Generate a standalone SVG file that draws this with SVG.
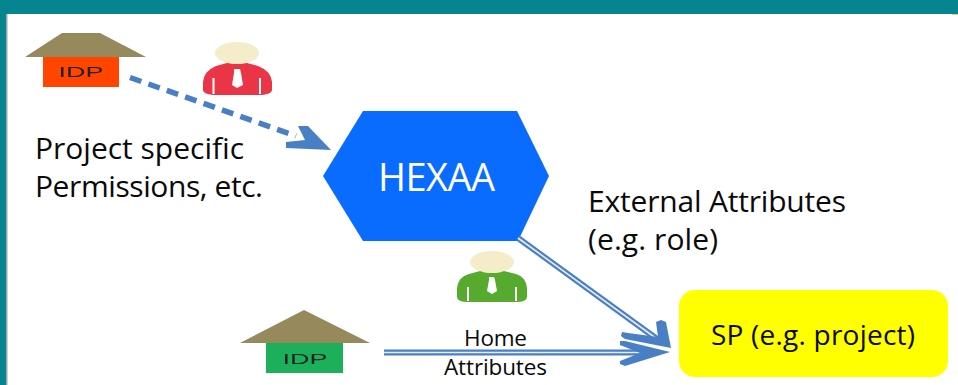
<svg xmlns="http://www.w3.org/2000/svg" width="958" height="385" viewBox="0 0 958 385">
<defs>
<filter id="soft" x="-5%" y="-5%" width="110%" height="110%"><feGaussianBlur stdDeviation="0.5"/></filter>
</defs>
<style>
text{font-family:"Open Sans","Noto Sans","Liberation Sans",sans-serif;fill:#0a0a0a}
.idp{font-family:"Liberation Sans",sans-serif;font-size:15px;text-anchor:middle;fill:#222}
.roof{fill:#96895c}
.head{fill:#f5ecc9}
.tie{fill:#fff}
.edge{fill:none;stroke:#4a7fc4}
.headfill{fill:#4a7fc4}
.inner{fill:none;stroke:#e6eef8;stroke-width:1.6}
</style>
<rect width="958" height="385" fill="#04858f"/>
<rect x="6" y="14" width="952" height="371" fill="#fff"/>
<rect x="6" y="14" width="1.500" height="371" fill="#9aa5a8"/>
<rect x="952" y="14" width="6" height="1" fill="#d8d86a"/>
<g id="idp-top" filter="url(#soft)">
<polygon class="roof" points="25,57 62,33 100,33 146,57"/>
<rect x="43" y="57" width="76" height="30" fill="#ff4500"/>
<text class="idp" x="81" y="77" textLength="45" lengthAdjust="spacingAndGlyphs">IDP</text>
</g>
<g id="user-red" filter="url(#soft)">
<path d="M203,90 V82 Q204,71 216,66 L227,63 H247 L258,66 Q271,71 272,82 V90 Q272,94 262,95 H213 Q203,94 203,90Z" fill="#e93545"/>
<path d="M213.500,94 V78 M260,94 V78" stroke="#fff" stroke-width="2"/>
<ellipse class="head" cx="237" cy="53" rx="22" ry="11"/>
<path class="tie" d="M234,69 H240 L241,73 L243,85 L237,88 L232,85 L234,73Z"/>
</g>
<g id="hexaa">
<polygon points="323,176 363,111 517,111 549,176 518,241 363,241" fill="#0a6cff"/>
<text x="436.500" y="191" font-size="38" text-anchor="middle" style="fill:#fff" textLength="117">HEXAA</text>
</g>
<g id="user-green" filter="url(#soft)">
<path d="M457,297 V288 Q458,277 469,274 L480,271 H504 L516,274 Q526,277 527,288 V297 Q527,302 516,302 H468 Q457,302 457,297Z" fill="#56ab2f"/>
<path d="M468,301 V287 M516,301 V287" stroke="#fff" stroke-width="2"/>
<ellipse class="head" cx="492" cy="262" rx="22" ry="11"/>
<path class="tie" d="M489,277 H494 L495,280 L497,291 L492,294 L487,291 L489,280Z"/>
</g>
<g id="idp-bottom" filter="url(#soft)">
<polygon class="roof" points="240,343 304,310 370,343"/>
<rect x="266" y="343" width="77" height="30" fill="#1db05a"/>
<text class="idp" x="305" y="364" textLength="45" lengthAdjust="spacingAndGlyphs">IDP</text>
</g>
<g id="sp">
<rect x="679" y="290" width="269" height="87" rx="16" fill="#ffff00"/>
<text x="813" y="345" font-size="28" text-anchor="middle" textLength="204">SP (e.g. project)</text>
</g>
<g id="connectors" filter="url(#soft)">
<path class="edge" d="M130,77.500 L296,136" stroke-width="5.500" stroke-dasharray="12 7.500"/>
<polygon class="headfill" points="286,142 305,140 298,126 308,126 331,150 286,148"/>
<path class="edge" d="M518,238 L657,339" stroke-width="6"/>
<path class="inner" d="M518,238 L657,339"/>
<polygon class="headfill" points="656,322 661,320 666,322 671,348 625,339 621,336 622,332 628,333 658,337"/>
<path class="edge" d="M384,352.500 H645" stroke-width="6"/>
<path class="inner" d="M384,352.500 H640"/>
<polygon class="headfill" points="670,352 625,366 620,364 620,361 640,353 620,345 620,341 625,341"/>
</g>
<g id="labels">
<text x="35" y="159" font-size="30" textLength="209">Project specific</text>
<text x="35" y="197" font-size="30" textLength="228">Permissions, etc.</text>
<text x="588" y="212" font-size="30" textLength="258">External Attributes</text>
<text x="588" y="250" font-size="30" textLength="130">(e.g. role)</text>
<text x="495.500" y="346" font-size="22.500" text-anchor="middle" textLength="63">Home</text>
<text x="495.500" y="375" font-size="22.500" text-anchor="middle" textLength="103">Attributes</text>
</g>
</svg>
